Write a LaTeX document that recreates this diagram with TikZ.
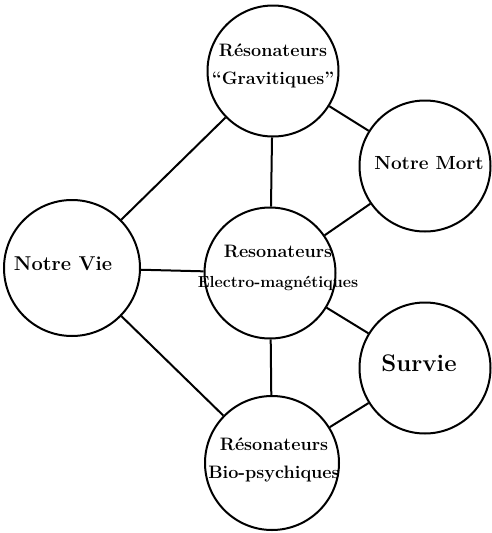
\documentclass[tikz,border=0pt]{standalone}
\usepackage{tikz}
\usetikzlibrary{positioning}

\begin{document}
\begin{tikzpicture}[x=1pt, y=-1pt,
          rbox/.style={circle, draw=black, line width=2pt, minimum size=131pt,
                       inner sep=0pt},
          rtxt/.style={inner sep=0pt, align=center,
                       font=\bfseries\fontsize{18}{28}\selectfont},
          lnk/.style={draw=black, line width=2pt}
        ]
        \useasboundingbox (0,0) rectangle (491,533);

        % circles
        \node[rbox] (grav) at (273, 71)  {};
        \node[rbox] (mort) at (425, 166) {};
        \node[rbox, minimum size=136pt] (vie) at (72, 268) {};
        \node[rbox] (elec) at (270, 273) {};
        \node[rbox] (surv) at (425, 368) {};
        \node[rbox, minimum size=134pt] (bio) at (272, 463) {};

        % texts
        \node[rtxt] (gravt) at (273, 66) {Résonateurs\\``Gravitiques''};
        \node[rtxt, font=\bfseries\fontsize{19}{28}\selectfont]
              (mortt) at (429, 163) {Notre Mort};
        \node[rtxt, font=\bfseries\fontsize{20}{28}\selectfont]
              (viet) at (63, 264) {Notre Vie};
        \node[rtxt, font=\bfseries\fontsize{16}{30}\selectfont]
              (elect) at (278, 268) {\fontsize{18}{30}\selectfont Resonateurs\\Electro-magnétiques};
        \node[rtxt, font=\bfseries\fontsize{24}{28}\selectfont]
              (survt) at (419, 363) {Survie};
        \node[rtxt] (biot) at (274, 460) {Résonateurs\\Bio-psychiques};

        \draw[lnk] (vie)  -- (grav);
        \draw[lnk] (vie)  -- (elec);
        \draw[lnk] (vie)  -- (bio);
        \draw[lnk] (grav) -- (elec);
        \draw[lnk] (grav) -- (mort);
        \draw[lnk] (elec) -- (mort);
        \draw[lnk] (elec) -- (surv);
        \draw[lnk] (elec) -- (bio);
        \draw[lnk] (bio)  -- (surv);
      \end{tikzpicture}
\end{document}
